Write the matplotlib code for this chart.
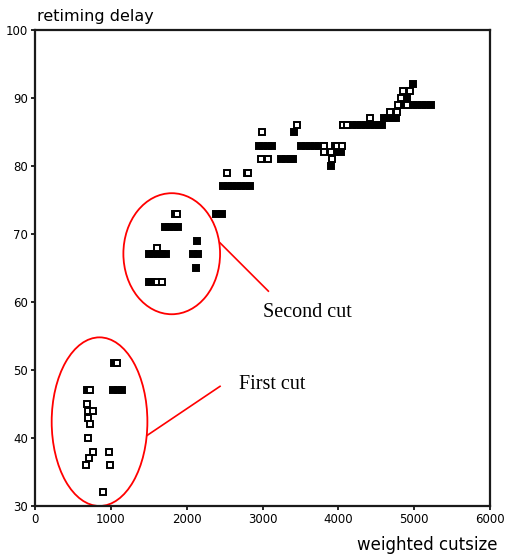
import matplotlib
matplotlib.use("Agg")
import matplotlib.pyplot as plt
from matplotlib.patches import Ellipse

# filled squares (solid black)
filled_x = [4990, 4900,
            4860, 4920, 4980, 5040, 5100, 5160, 5220,
            4600, 4660, 4720, 4760,
            4060, 4120, 4180, 4240, 4300, 4360, 4420, 4480, 4540, 4580,
            3420,
            2950, 3010, 3070, 3130,
            3510, 3570, 3630, 3690, 3750, 3810, 3950, 4030,
            3960, 4030,
            3250, 3310, 3370, 3400,
            3899, 2790,
            2480, 2540, 2600, 2660, 2720, 2780, 2830,
            2390, 2460, 1840,
            1710, 1770, 1830, 1880,
            2132,
            1500, 1560, 1620, 1680, 1730, 2080, 2150,
            2119,
            1500, 1540,
            1040, 690, 1030, 1090, 1150]
filled_y = [92, 90,
            89, 89, 89, 89, 89, 89, 89,
            87, 87, 87, 87,
            86, 86, 86, 86, 86, 86, 86, 86, 86, 86,
            85,
            83, 83, 83, 83,
            83, 83, 83, 83, 83, 83, 83, 83,
            82, 82,
            81, 81, 81, 81,
            80, 79,
            77, 77, 77, 77, 77, 77, 77,
            73, 73, 73,
            71, 71, 71, 71,
            69,
            67, 67, 67, 67, 67, 67, 67,
            65,
            63, 63,
            51, 47, 47, 47, 47]

# open squares (white face, black edge)
open_x = [4849, 4945, 4822, 4791, 4901, 4681, 4769, 4418, 4057, 4119,
          2994, 3460, 3815, 3987, 4044, 3815, 3899, 3912, 2977, 3068,
          2536, 2813, 1868, 1613, 1604, 1670, 1080, 725,
          681, 703, 769, 703, 725, 699, 769, 976, 712, 672, 989, 901]
open_y = [91, 91, 90, 89, 89, 88, 88, 87, 86, 86,
          85, 86, 83, 83, 83, 82, 82, 81, 81, 81,
          79, 79, 73, 68, 63, 63, 51, 47,
          45, 44, 44, 43, 42, 40, 38, 38, 37, 36, 36, 32]

x_ticks = [0, 1000, 2000, 3000, 4000, 5000, 6000]
y_ticks = [30, 40, 50, 60, 70, 80, 90, 100]

fig = plt.figure(figsize=(5.10, 5.54), dpi=100)
ax = fig.add_axes([35/510, 1 - 506/554, 455/510, 476/554])

ax.plot(filled_x, filled_y, "s", ms=4.8, color="black", mec="black", mew=1.4)
ax.plot(open_x, open_y, "s", ms=4.8, mfc="white", mec="black", mew=1.4)

ax.set_xlim(0, 6000)
ax.set_ylim(30, 100)
ax.set_xticks(x_ticks)
ax.set_yticks(y_ticks)
ax.tick_params(labelsize=8.5, length=3, width=1.2, color="black", pad=2)
for s in ax.spines.values():
    s.set_linewidth(1.6)
    s.set_color("#1a1a1a")

# annotations
red = "#ff0000"
ax.add_patch(Ellipse((1803, 67.1), 1275, 17.8, fill=False, ec=red, lw=1.3, clip_on=False))
ax.add_patch(Ellipse((851, 42.4), 1262, 24.8, fill=False, ec=red, lw=1.3, clip_on=False))
ax.plot([2440, 3077], [68.7, 61.6], color=red, lw=1.2, clip_on=False)
ax.plot([1481, 2440], [40.4, 47.6], color=red, lw=1.2, clip_on=False)
ax.text(3007, 58.4, "Second cut", family="Liberation Serif", fontsize=14.5,
        ha="left", va="center")
ax.text(2690, 47.8, "First cut", family="Liberation Serif", fontsize=14.5,
        ha="left", va="center")

fig.text(37/510, 1 - 17/554, "retiming delay", fontsize=11.5, ha="left", va="center")
fig.text(498/510, 1 - 545/554, "weighted cutsize", fontsize=12, ha="right", va="center")

fig.savefig("out.png", dpi=100)
